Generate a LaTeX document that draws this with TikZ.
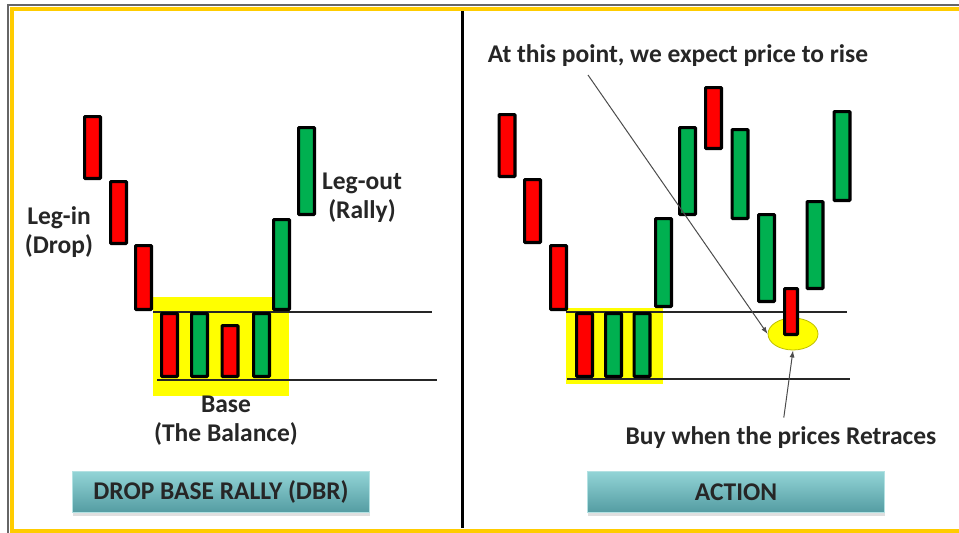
\documentclass[tikz,border=0pt]{standalone}
\usepackage{fontspec}
\setmainfont{Carlito}
\usetikzlibrary{shapes.geometric,arrows.meta,shadows}
\definecolor{barred}{RGB}{255,0,0}
\definecolor{bargreen}{RGB}{0,176,80}
\definecolor{zone}{RGB}{255,255,0}
\definecolor{gold}{RGB}{255,204,0}
\definecolor{tealtop}{RGB}{146,212,214}
\definecolor{tealbot}{RGB}{84,156,162}
\begin{document}
\begin{tikzpicture}[x=1pt, y=-1pt,
    bar/.style={draw=black, line width=3.2pt, minimum width=15.8pt, inner sep=0pt, rounded corners=0.8pt},
    bear/.style={bar, fill=barred},
    bull/.style={bar, fill=bargreen},
    lbl/.style={font=\bfseries\fontsize{25.5}{29}\selectfont, text=black!85, align=center},
    btn/.style={minimum width=297pt, minimum height=41pt, top color=tealtop, bottom color=tealbot,
      draw=tealtop!70!white, line width=1pt, font=\bfseries\fontsize{25.5}{28}\selectfont, text=black!85,
      drop shadow={opacity=0.25, shadow xshift=0pt, shadow yshift=-3pt}},
    pointer/.style={draw=black!70, line width=1pt, -{Latex[length=7pt,width=5pt]}},
    level/.style={draw=black!85, line width=2pt}
  ]
  \useasboundingbox (0,0) rectangle (959,533);

  \draw[black!60, line width=2pt] (959,5) -- (7.5,5) -- (7.5,533);
  \draw[gold, line width=4pt] (959,9) -- (12,9) -- (12,530.5) -- (959,530.5);
  \draw[black, line width=3pt] (462,11) -- (462,528);

  \fill[zone] (153,297) rectangle (289,396);
  \draw[level] (153,312) -- (432,312);
  \draw[level] (157,380) -- (437,380);

  \node[bear, minimum height=61.8pt] (l1) at (92.5,147.5) {};
  \node[bear, minimum height=61.8pt] (l2) at (118.5,212.5) {};
  \node[bear, minimum height=63.8pt] (l3) at (143.5,277.5) {};
  \node[bear, minimum height=62.8pt] (b1) at (169.5,345) {};
  \node[bull, minimum height=62.8pt] (b2) at (199.5,345) {};
  \node[bear, minimum height=50.8pt] (b3) at (230,351) {};
  \node[bull, minimum height=62.8pt] (b4) at (261.5,345) {};
  \node[bull, minimum height=89.8pt] (r1) at (281.5,264.5) {};
  \node[bull, minimum height=86.8pt] (r2) at (306.5,171) {};

  \node[lbl] (legin) at (59,232) {Leg-in\\(Drop)};
  \node[lbl] (legout) at (362,198) {Leg-out\\(Rally)};
  \node[lbl] (base) at (226,421) {Base\\(The Balance)};
  \node[btn] (dbr) at (221,492) {DROP BASE RALLY (DBR)};

  \fill[zone] (566,308) rectangle (663,384);
  \draw[level] (566,312) -- (847,312);
  \draw[level] (567,379) -- (850,379);
  \node[ellipse, fill=zone, draw=zone!75!black, line width=0.8pt, minimum width=50pt, minimum height=32pt, inner sep=0pt] (spot) at (793,334) {};

  \node[bear, minimum height=61.8pt] (c1) at (507,145.5) {};
  \node[bear, minimum height=62.8pt] (c2) at (532.5,211) {};
  \node[bear, minimum height=63.8pt] (c3) at (558.5,277.5) {};
  \node[bear, minimum height=62.8pt] (d1) at (584.5,345) {};
  \node[bull, minimum height=62.8pt] (d2) at (613.5,345) {};
  \node[bull, minimum height=62.8pt] (d3) at (642,345) {};
  \node[bull, minimum height=87.8pt] (g1) at (663.5,262.5) {};
  \node[bull, minimum height=86.8pt] (g2) at (687.5,171) {};
  \node[bear, minimum height=60.8pt] (top) at (713.5,118) {};
  \node[bull, minimum height=88.8pt] (g3) at (740,174) {};
  \node[bull, minimum height=86.8pt] (g4) at (766.5,258) {};
  \node[bear, minimum height=45.8pt, minimum width=12.8pt] (dip) at (791,311.5) {};
  \node[bull, minimum height=86.8pt] (g5) at (815,245) {};
  \node[bull, minimum height=88.8pt] (g6) at (842,156) {};

  \node[lbl] (expect) at (678,56) {At this point, we expect price to rise};
  \node[lbl] (buy) at (781,438) {Buy when the prices Retraces};
  \node[btn] (action) at (736,492) {ACTION};

  \coordinate (from) at (588,75);
  \draw[pointer] (from) -- (spot.west);
  \draw[pointer, shorten <=6pt] (buy) -- (spot.south);
\end{tikzpicture}
\end{document}
